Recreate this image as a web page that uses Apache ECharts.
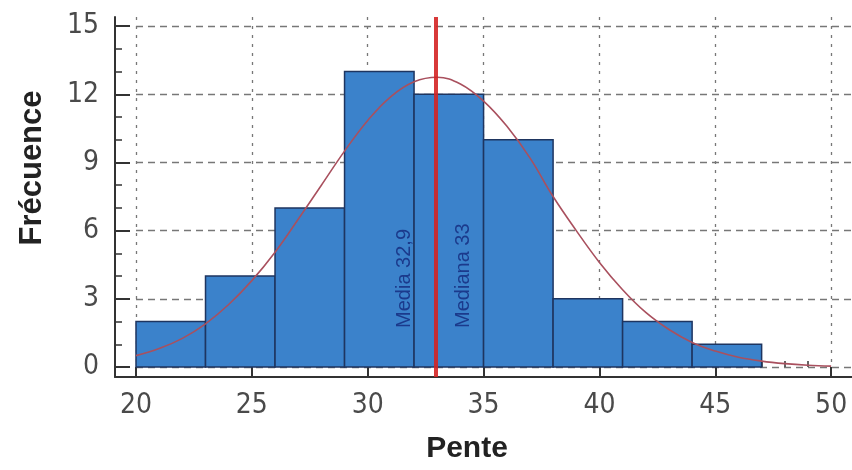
<!DOCTYPE html>
<html><head><meta charset="utf-8">
<script src="https://cdn.jsdelivr.net/npm/echarts@6/dist/echarts.min.js"></script>
<style>html,body{margin:0;padding:0;background:#fff}#c{width:852px;height:470px}</style>
</head><body><div id="c"></div>
<script>
// ---- data ----
const binStarts = [20, 23, 26, 29, 32, 35, 38, 41, 44];
const binWidth = 3;
const counts = [2, 4, 7, 13, 12, 10, 3, 2, 1];
const curveX = [20,21,22,23,24,25,26,27,28,29,30,31,32,33,34,35,36,37,38,39,40,41,42,43,44,45,46,47,48,49,50];
const curveY = [0.50,0.81,1.26,1.9,2.75,3.8,5.05,6.5,8.0,9.5,10.85,11.9,12.55,12.75,12.45,11.7,10.6,9.2,7.5,6.0,4.6,3.4,2.4,1.65,1.08,0.7,0.43,0.26,0.15,0.08,0.04];
const xTicks = [20, 25, 30, 35, 40, 45, 50];
const xMinorTicks = [21,22,23,24,26,27,28,29,31,32,33,34,36,37,38,39,41,42,43,44,46,47,48,49];
const yTicks = [0, 3, 6, 9, 12, 15];
const yMinorTicks = [1,2,4,5,7,8,10,11,13,14];
const meanValue = 32.9;
const medianValue = 33;
const annotText = ['Media 32,9', 'Mediana 33'];
const annotX = [31.6, 34.15];
const annotY = [1.72, 1.72];

// ---- layout ----
const plotLeft = 136, axisLeft = 115, plotTop = 17, plotBottomY = 367, axisBottomY = 377, W = 852, H = 470;
const xMin = 20, xMax = 50.9, yMin = 0, yMax = 15.4;
const pxX = (W - plotLeft) / (xMax - xMin);
const pxY = (plotBottomY - plotTop) / (yMax - yMin);
const xMinB = xMin - (plotLeft - axisLeft) / pxX;
const yMinB = yMin - (axisBottomY - plotBottomY) / pxY;

const tickFont = "'Liberation Sans Narrow', 'DejaVu Sans Condensed', sans-serif";
const axisColor = '#333';
const chart = echarts.init(document.getElementById('c'), null, {renderer: 'canvas'});

const hidden = {axisLine: {show: false}, axisTick: {show: false}, axisLabel: {show: false}, splitLine: {show: false}};

const option = {
  backgroundColor: '#ffffff',
  animation: false,
  grid: [
    {left: plotLeft, right: 0, top: plotTop, bottom: H - plotBottomY},
    {left: axisLeft, right: 0, top: plotTop, bottom: H - axisBottomY}
  ],
  xAxis: [
    Object.assign({}, hidden, {
      type: 'value', gridIndex: 0, min: xMin, max: xMax, interval: 5,
      splitLine: {show: true, showMaxLine: false, lineStyle: {color: '#777', width: 1.3, type: [3, 6]}}
    }),
    {
      type: 'value', gridIndex: 1, min: xMinB, max: xMax, position: 'bottom',
      axisLine: {show: true, onZero: false, lineStyle: {color: axisColor, width: 2}},
      axisTick: {show: true, inside: true, length: 10, customValues: xTicks, lineStyle: {color: axisColor, width: 2}},
      axisLabel: {show: true, customValues: xTicks, margin: 15, fontSize: 28, fontFamily: tickFont, color: '#4a4a4a'},
      splitLine: {show: false}
    },
    Object.assign({}, hidden, {
      type: 'value', gridIndex: 1, min: xMinB, max: xMax, position: 'bottom',
      axisTick: {show: true, inside: true, length: 6, customValues: xMinorTicks, lineStyle: {color: axisColor, width: 1.5}}
    })
  ],
  yAxis: [
    Object.assign({}, hidden, {
      type: 'value', gridIndex: 0, min: yMin, max: yMax, interval: 3,
      splitLine: {show: true, showMaxLine: false, lineStyle: {color: '#777', width: 1.3, type: [7, 5]}}
    }),
    {
      type: 'value', gridIndex: 1, min: yMinB, max: yMax, position: 'left',
      axisLine: {show: true, onZero: false, lineStyle: {color: axisColor, width: 2}},
      axisTick: {show: true, inside: true, length: 15, customValues: yTicks, lineStyle: {color: axisColor, width: 2}},
      axisLabel: {show: true, customValues: yTicks, margin: 16, fontSize: 28, fontFamily: tickFont, color: '#4a4a4a'},
      splitLine: {show: false}
    },
    Object.assign({}, hidden, {
      type: 'value', gridIndex: 1, min: yMinB, max: yMax, position: 'left',
      axisTick: {show: true, inside: true, length: 7, customValues: yMinorTicks, lineStyle: {color: axisColor, width: 1.5}}
    })
  ],
  graphic: [
    {type: 'text', x: 32, y: 168, rotation: Math.PI / 2,
      style: {text: 'Frécuence', font: "bold 31px 'Liberation Sans', Arial, sans-serif", fill: '#222', align: 'center', verticalAlign: 'middle'}},
    {type: 'text', x: 467, y: 449,
      style: {text: 'Pente', font: "bold 30px 'Liberation Sans', Arial, sans-serif", fill: '#222', align: 'center', verticalAlign: 'middle'}}
  ],
  series: [
    {
      type: 'custom', xAxisIndex: 1, yAxisIndex: 1, z: 2,
      data: binStarts.map((s, i) => [s, s + binWidth, counts[i]]),
      renderItem: function (params, api) {
        const p0 = api.coord([api.value(0), 0]);
        const p1 = api.coord([api.value(1), api.value(2)]);
        return {type: 'rect', shape: {x: p0[0], y: p1[1], width: p1[0] - p0[0], height: p0[1] - p1[1]},
          style: {fill: '#3b82cb', stroke: '#1e3560', lineWidth: 1.5}};
      }
    },
    {
      type: 'line', xAxisIndex: 1, yAxisIndex: 1, z: 3, smooth: 0.4, symbol: 'none',
      data: curveX.map((x, i) => [x, curveY[i]]),
      lineStyle: {color: '#a9505e', width: 1.6},
      markLine: {
        silent: true, symbol: 'none', label: {show: false},
        lineStyle: {color: '#d42424', width: 1.8, type: 'solid'},
        data: [{xAxis: meanValue}, {xAxis: medianValue}]
      }
    },
    {
      type: 'custom', xAxisIndex: 1, yAxisIndex: 1, z: 4,
      data: annotText.map((t, i) => [annotX[i], annotY[i], t]),
      renderItem: function (params, api) {
        const p = api.coord([api.value(0), api.value(1)]);
        return {type: 'text', x: p[0], y: p[1], rotation: Math.PI / 2,
          style: {text: annotText[params.dataIndex], fontSize: 20, fontFamily: "'Liberation Sans', Arial, sans-serif",
            fill: '#1b3a8c', align: 'left', verticalAlign: 'middle'}};
      }
    }
  ]
};
chart.setOption(option);
</script></body></html>
